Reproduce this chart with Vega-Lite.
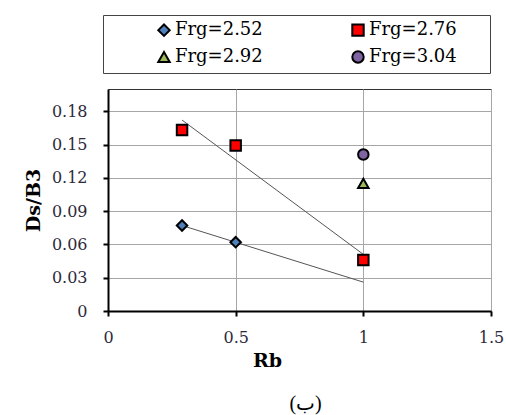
{
  "$schema": "https://vega.github.io/schema/vega-lite/v6.json",
  "width": 383,
  "height": 222,
  "autosize": {"type": "none"},
  "padding": {"left": 108, "top": 89, "right": 15, "bottom": 104},
  "background": "white",
  "title": {"text": "(ب)", "orient": "bottom", "anchor": "middle", "frame": "group", "font": "Liberation Serif, DejaVu Sans", "fontSize": 20, "fontWeight": "normal", "offset": 24, "dx": 6, "color": "black"},
  "config": {
    "view": {"stroke": "#333333", "strokeWidth": 1},
    "axis": {
      "domainColor": "black", "domainWidth": 2, "tickColor": "black", "tickWidth": 2, "tickSize": 5,
      "labelFont": "DejaVu Serif", "labelFontSize": 16, "labelColor": "#2e2a3a", "labelOverlap": false, "labelFlush": false,
      "titleFont": "DejaVu Serif", "titleFontWeight": "bold", "titleFontSize": 19, "titleColor": "black",
      "gridColor": "#a6a6a6", "gridWidth": 1
    }
  },
  "datasets": {
    "points": [
      {"Rb": 0.29, "DsB3": 0.077, "series": "Frg=2.52"},
      {"Rb": 0.5, "DsB3": 0.062, "series": "Frg=2.52"},
      {"Rb": 0.29, "DsB3": 0.163, "series": "Frg=2.76"},
      {"Rb": 0.5, "DsB3": 0.149, "series": "Frg=2.76"},
      {"Rb": 1.0, "DsB3": 0.046, "series": "Frg=2.76"},
      {"Rb": 1.0, "DsB3": 0.115, "series": "Frg=2.92"},
      {"Rb": 1.0, "DsB3": 0.141, "series": "Frg=3.04"}
    ],
    "fits": [
      {"Rb": 0.29, "DsB3": 0.077, "fit": "Frg=2.52"},
      {"Rb": 1.0, "DsB3": 0.026, "fit": "Frg=2.52"},
      {"Rb": 0.29, "DsB3": 0.172, "fit": "Frg=2.76"},
      {"Rb": 1.0, "DsB3": 0.051, "fit": "Frg=2.76"}
    ]
  },
  "layer": [
    {
      "data": {"name": "fits"},
      "mark": {"type": "line", "color": "#555555", "strokeWidth": 1},
      "encoding": {
        "x": {"field": "Rb", "type": "quantitative", "scale": {"domain": [0, 1.5], "nice": false},
          "axis": {"values": [0, 0.5, 1, 1.5], "tickCount": 20, "format": "~g", "labelPadding": 13, "title": "Rb", "titleX": 159, "titleY": 55, "titleBaseline": "alphabetic"}},
        "y": {"field": "DsB3", "type": "quantitative", "scale": {"domain": [0, 0.2], "nice": false},
          "axis": {"values": [0, 0.03, 0.06, 0.09, 0.12, 0.15, 0.18], "tickCount": 20, "labelExpr": "datum.value == 0 ? '0' : format(datum.value, '.2f')", "labelPadding": 16, "title": "Ds/B3", "titleX": -75, "titleY": 111, "titleBaseline": "middle", "titleAlign": "center", "titleAngle": -90}},
        "detail": {"field": "fit"}
      }
    },
    {
      "data": {"name": "points"},
      "mark": {"type": "point", "filled": true, "strokeWidth": 2, "size": 110, "opacity": 1},
      "encoding": {
        "x": {"field": "Rb", "type": "quantitative"},
        "y": {"field": "DsB3", "type": "quantitative"},
        "fill": {"field": "series", "type": "nominal",
          "scale": {"domain": ["Frg=2.52", "Frg=2.76", "Frg=2.92", "Frg=3.04"], "range": ["#4F81BD", "#FF0000", "#9BBB59", "#8064A2"]},
          "legend": {"title": "\u2800\u2800\u2800", "titleOrient": "left", "titleFont": "DejaVu Serif", "titleFontSize": 18, "titlePadding": 3, "orient": "none", "legendX": -5, "legendY": -74, "direction": "horizontal", "columns": 2, "padding": 6, "labelOffset": 2, "columnPadding": 58, "rowPadding": 7, "strokeColor": "#444444", "symbolSize": 130, "symbolStrokeWidth": 2, "labelFont": "DejaVu Serif", "labelFontSize": 18, "labelColor": "black", "labelExpr": "datum.label + '\u2800\u2800'"}},
        "stroke": {"field": "series", "type": "nominal",
          "scale": {"domain": ["Frg=2.52", "Frg=2.76", "Frg=2.92", "Frg=3.04"], "range": ["black", "black", "black", "black"]},
          "legend": {"title": "\u2800\u2800\u2800", "titleOrient": "left", "titleFont": "DejaVu Serif", "titleFontSize": 18, "titlePadding": 3, "orient": "none", "legendX": -5, "legendY": -74, "direction": "horizontal", "columns": 2, "padding": 6, "labelOffset": 2, "columnPadding": 58, "rowPadding": 7, "strokeColor": "#444444", "symbolSize": 130, "symbolStrokeWidth": 2, "labelFont": "DejaVu Serif", "labelFontSize": 18, "labelColor": "black", "labelExpr": "datum.label + '\u2800\u2800'"}},
        "shape": {"field": "series", "type": "nominal",
          "scale": {"domain": ["Frg=2.52", "Frg=2.76", "Frg=2.92", "Frg=3.04"], "range": ["diamond", "square", "triangle-up", "circle"]},
          "legend": {"title": "\u2800\u2800\u2800", "titleOrient": "left", "titleFont": "DejaVu Serif", "titleFontSize": 18, "titlePadding": 3, "orient": "none", "legendX": -5, "legendY": -74, "direction": "horizontal", "columns": 2, "padding": 6, "labelOffset": 2, "columnPadding": 58, "rowPadding": 7, "strokeColor": "#444444", "symbolSize": 130, "symbolStrokeWidth": 2, "labelFont": "DejaVu Serif", "labelFontSize": 18, "labelColor": "black", "labelExpr": "datum.label + '\u2800\u2800'"}}
      }
    }
  ]
}
